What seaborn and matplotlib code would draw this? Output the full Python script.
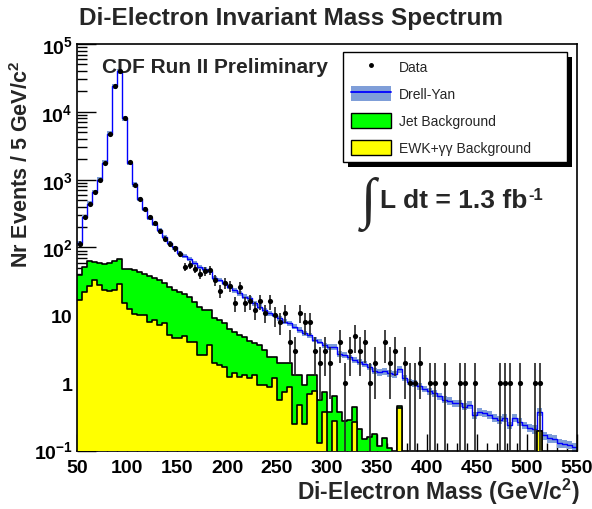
import matplotlib
matplotlib.use("Agg")
import matplotlib.pyplot as plt
import matplotlib.transforms as mtransforms
import numpy as np
import pandas as pd
import seaborn as sns
from matplotlib.lines import Line2D
from matplotlib.patches import Patch, Rectangle
from matplotlib.ticker import FixedLocator, LogLocator, MultipleLocator, NullFormatter

# 5 GeV bins from 50 to 550 GeV/c^2
mass_edges = list(range(50, 551, 5))

# top of the yellow stack (EWK + gamma gamma)
ewk = [17, 22, 27, 33, 28, 24, 23, 24, 29, 15,
       12.2, 10.4, 10.1, 10.1, 8.1, 8.5, 7.2, 7.6, 5.1, 4.6,
       4.7, 4.9, 4.1, 4.0, 2.6, 2.6, 3.7, 2.0, 1.86, 1.76,
       1.25, 1.4, 1.25, 1.3, 1.18, 1.33, 0.95, 0.95, 0.89, 1.2,
       0.57, 0.75, 0.89, 0.25, 0.48, 0.25, 0.69, 0.77, 0.13, 0.38,
       0, 0.28, 0, 0, 0, 0.27, 0, 0, 0, 0,
       0, 0, 0, 0, 0.43, 0, 0, 0, 0, 0,
       0, 0, 0, 0, 0, 0, 0, 0, 0, 0,
       0, 0, 0, 0, 0, 0, 0, 0, 0, 0,
       0, 0, 0.2, 0, 0, 0, 0, 0, 0, 0]

# top of the green stack (EWK + jet background)
jet_top = [39, 52, 64, 62, 59.5, 57, 59, 64, 67, 49,
           47.5, 46.5, 44, 41, 38, 36, 33, 29.5, 26, 24,
           22.4, 20.5, 18.8, 15.9, 13.2, 12, 12, 9.2, 8.5, 7.6,
           6.3, 5.75, 5.1, 4.8, 4.2, 3.9, 3.6, 3.1, 2.4, 2.4,
           2.0, 2.0, 2.0, 1.3, 1.3, 0.95, 1.3, 1.33, 0.57, 0.75,
           0.38, 0.64, 0.38, 0.28, 0.29, 0.45, 0.21, 0.15, 0.16, 0.18,
           0.12, 0.155, 0.11, 0, 0.46, 0, 0, 0, 0, 0,
           0, 0, 0, 0, 0, 0, 0, 0, 0, 0,
           0, 0, 0, 0, 0, 0, 0, 0, 0, 0,
           0, 0, 0.2, 0, 0, 0, 0, 0, 0, 0]

# top of the full stack (backgrounds + Drell-Yan)
total = [115, 283, 443, 660, 1000, 1780, 4750, 23900, 39800, 8070,
         1780, 850, 513, 375, 276, 225, 180, 145, 118, 100,
         84, 76, 67, 60, 52, 48, 45, 36, 33, 30,
         26.5, 23.5, 21, 18.8, 17.8, 15, 13.4, 12, 10.7, 10.1,
         9.0, 8.1, 7.6, 6.8, 6.1, 5.4, 5.1, 4.4, 4.1, 3.6,
         3.4, 3.4, 2.7, 2.6, 2.4, 2.2, 2.05, 1.9, 1.75, 1.5,
         1.45, 1.5, 1.4, 1.35, 1.6, 1.2, 1.05, 1.0, 0.9, 0.82,
         0.76, 0.72, 0.64, 0.57, 0.55, 0.51, 0.51, 0.45, 0.48, 0.34,
         0.38, 0.36, 0.34, 0.31, 0.29, 0.31, 0.24, 0.31, 0.27, 0.24,
         0.22, 0.21, 0.38, 0.17, 0.155, 0.15, 0.13, 0.127, 0.124, 0.114]

# relative half-width of the Drell-Yan band, one value per 50 GeV
band_rel = [0.08, 0.07, 0.07, 0.08, 0.09, 0.10, 0.11, 0.12, 0.13, 0.14]

data = [114, 285, 440, 650, 990, 1790, 4700, 23800, 39500, 8100,
        1800, 840, 520, 370, 280, 233, 174, 135, 114, 97,
        81, 52, 55, 49, 41, 45, 46, 33, 23, 30,
        27, 15, 26, 15, 16, 12, 16, 11, 16, 10,
        8, 11, 4, 3, 11, 8, 8, 3, 2, 3,
        2, 0, 4, 1, 3, 5, 3, 4, 1, 2,
        0, 4, 2, 3, 0, 2, 1, 1, 2, 0,
        1, 1, 0, 1, 0, 0, 1, 1, 0, 1,
        0, 0, 0, 0, 1, 1, 1, 0, 1, 0,
        0, 1, 1, 0, 0, 0, 0, 0, 0, 0]

y_ticks = [0.1, 1, 10, 100, 1e3, 1e4, 1e5]
y_labels = [r"$10^{-1}$", "1", "10", r"$10^{2}$", r"$10^{3}$", r"$10^{4}$", r"$10^{5}$"]

sns.set_style("white")
plt.rcParams["font.family"] = ["Liberation Sans", "DejaVu Sans"]
plt.rcParams["mathtext.fontset"] = "custom"
plt.rcParams["mathtext.rm"] = "Liberation Sans"
plt.rcParams["mathtext.bf"] = "Liberation Sans:bold"
plt.rcParams["mathtext.default"] = "bf"

df = pd.DataFrame({
    "mass": [e + 2.5 for e in mass_edges[:-1]],
    "total": total,
    "jet": jet_top,
    "ewk": ewk,
    "data": data,
})

fig = plt.figure(figsize=(5.92, 5.10), dpi=100)
ax = fig.add_axes([77 / 592, 1 - 452 / 510, 500 / 592, 407 / 510])

# Drell-Yan uncertainty band
rel = np.repeat(band_rel, 10)
lo = df["total"].to_numpy() * (1 - rel)
hi = df["total"].to_numpy() * (1 + rel)
ax.fill_between(mass_edges, np.append(lo, lo[-1]), np.append(hi, hi[-1]),
                step="post", color="#7f9ed8", lw=0, zorder=1)

sns.histplot(df, x="mass", weights="total", bins=mass_edges, element="step",
             fill=False, color="#0000ff", linewidth=1.0, ax=ax, zorder=2)
sns.histplot(df, x="mass", weights="jet", bins=mass_edges, element="step",
             fill=True, color="#00ff00", alpha=1, edgecolor="black",
             linewidth=1.2, ax=ax, zorder=3)
sns.histplot(df, x="mass", weights="ewk", bins=mass_edges, element="step",
             fill=True, color="#ffff00", alpha=1, edgecolor="black",
             linewidth=1.2, ax=ax, zorder=4)

# data points with sqrt(N) errors
pts = df[df["data"] > 0]
n = pts["data"].to_numpy(dtype=float)
err_lo = np.minimum(np.sqrt(n), n - 1e-3)
ax.errorbar(pts["mass"], n, yerr=[err_lo, np.sqrt(n)], fmt="none",
            ecolor="#222222", elinewidth=1.2, zorder=5)
sns.scatterplot(data=pts, x="mass", y="data", color="black", s=14,
                linewidth=0, ax=ax, zorder=6)

ax.set_yscale("log")
ax.set_xlim(50, 550)
ax.set_ylim(0.1, 1e5)
ax.set_xlabel("")
ax.set_ylabel("")

ax.xaxis.set_major_locator(MultipleLocator(50))
ax.xaxis.set_minor_locator(MultipleLocator(10))
ax.yaxis.set_major_locator(FixedLocator(y_ticks))
ax.set_yticklabels(y_labels)
ax.yaxis.set_minor_locator(LogLocator(base=10, subs=np.arange(2, 10)))
ax.yaxis.set_minor_formatter(NullFormatter())
ax.tick_params(which="both", direction="in", left=True, bottom=True,
               top=False, right=False, colors="black")
ax.tick_params(axis="x", which="major", length=12, width=1.0)
ax.tick_params(axis="x", which="minor", length=6, width=1.0)
ax.tick_params(axis="y", which="major", length=14, width=1.0)
ax.tick_params(axis="y", which="minor", length=7, width=1.0)
ax.tick_params(axis="x", which="major", labelsize=14, pad=6)
ax.tick_params(axis="y", which="major", labelsize=14, pad=3)
for lab in ax.get_xticklabels() + ax.get_yticklabels():
    lab.set_fontweight("bold")
# keep the last x label inside the canvas
last = ax.get_xticklabels()[-1]
last.set_transform(last.get_transform() +
                   mtransforms.ScaledTranslation(-3 / 100, 0, fig.dpi_scale_trans))
# lift the lowest y label a little off the x labels
low = ax.get_yticklabels()[0]
low.set_transform(low.get_transform() +
                  mtransforms.ScaledTranslation(0, 2 / 100, fig.dpi_scale_trans))
for s in ax.spines.values():
    s.set_color("black")
    s.set_linewidth(1.2)

fig.text(291 / 592, 1 - 18 / 510, "Di-Electron Invariant Mass Spectrum",
         ha="center", va="center", fontsize=17.5, fontweight="bold")
fig.text(22 / 592, 1 - 61 / 510, r"Nr Events / 5 GeV/c$^{2}$",
         ha="center", va="top", rotation=90, fontsize=15.5, fontweight="bold")
fig.text(580 / 592, 1 - 492 / 510, r"Di-Electron Mass (GeV/c$^{2}$)",
         ha="right", va="center", fontsize=16.5, fontweight="bold")
ax.text(0.05, 0.968, "CDF Run II Preliminary", transform=ax.transAxes,
        ha="left", va="top", fontsize=15, fontweight="bold")
ax.text(0.568, 0.607, "\u222b", transform=ax.transAxes, ha="left",
        va="center", fontsize=40, family=["Liberation Serif", "DejaVu Serif"])
lumi = ax.text(0.606, 0.6, "L dt = 1.3 fb", transform=ax.transAxes,
               ha="left", va="baseline", fontsize=19, fontweight="bold")

handles = [
    Line2D([], [], marker="o", color="black", markersize=2.5, linestyle="none"),
    (Patch(facecolor="#7f9ed8", edgecolor="none"), Line2D([], [], color="#0000ff", lw=1.3)),
    Patch(facecolor="#00ff00", edgecolor="black", lw=1.0),
    Patch(facecolor="#ffff00", edgecolor="black", lw=1.0),
]
labels = ["Data", "Drell-Yan", "Jet Background", "EWK+\u03b3\u03b3 Background"]
leg = ax.legend(handles, labels, loc="upper left",
                bbox_to_anchor=(0.532, 0.981, 0.448, 0.0), mode="expand",
                fontsize=10, frameon=True, fancybox=False, framealpha=1,
                edgecolor="black", borderpad=0.55, labelspacing=0.85,
                handlelength=2.9, handleheight=1.25, handletextpad=0.6,
                borderaxespad=0)
leg.get_frame().set_linewidth(1.0)
leg.set_zorder(10)

fig.canvas.draw()

# solid drop shadow behind the legend box
bb = leg.get_window_extent().transformed(fig.transFigure.inverted())
dx, dy = 5 / 592, 5 / 510
ax.add_patch(Rectangle((bb.x0 + dx, bb.y0 - dy), bb.width, bb.height,
                       transform=fig.transFigure, facecolor="black",
                       edgecolor="none", zorder=9, clip_on=False))

# "-1" exponent right after "fb"
lb = lumi.get_window_extent().transformed(fig.transFigure.inverted())
fig.text(lb.x1 + 1 / 592, lb.y1 + 1 / 510, "-1", ha="left", va="top",
         fontsize=12, fontweight="bold")

fig.savefig("out.png", dpi=100)
